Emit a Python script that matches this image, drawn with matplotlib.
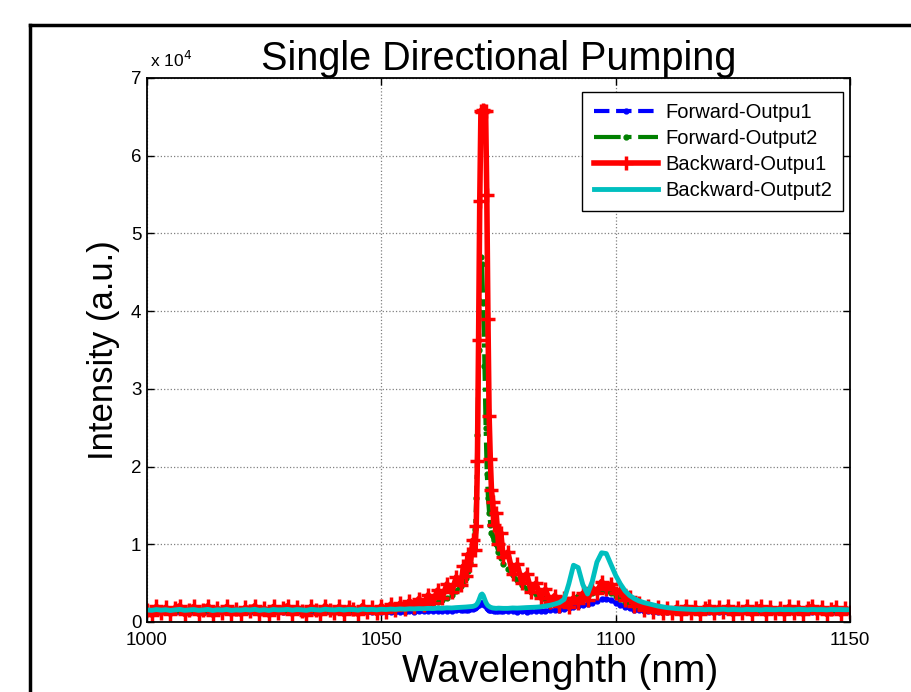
"""
Single directional pumping spectra: forward/backward outputs.

Redraws the four measured spectra (intensity vs wavelength) in MATLAB style.
"""
import matplotlib
matplotlib.use("Agg")
import matplotlib.pyplot as plt
from matplotlib.lines import Line2D
from matplotlib.ticker import FuncFormatter

plt.rcParams['font.family'] = ['Liberation Sans', 'DejaVu Sans']

# Wavelength grid (nm), finer around the 1071 nm lasing line
wavelength = [
    1000, 1001, 1002, 1003, 1004, 1005, 1006, 1007, 1008, 1009,
    1010, 1011, 1012, 1013, 1014, 1015, 1016, 1017, 1018, 1019,
    1020, 1021, 1022, 1023, 1024, 1025, 1026, 1027, 1028, 1029,
    1030, 1031, 1032, 1033, 1034, 1035, 1036, 1037, 1038, 1039,
    1040, 1041, 1042, 1043, 1044, 1045, 1046, 1047, 1048, 1049,
    1050, 1051, 1052, 1053, 1054, 1055, 1056, 1057, 1058, 1059,
    1060, 1061, 1062, 1063, 1064, 1065, 1066, 1067,
    1067.5, 1068, 1068.5, 1069, 1069.5, 1070, 1070.25, 1070.5, 1070.75, 1071,
    1071.25, 1071.5, 1071.75, 1072, 1072.25, 1072.5, 1072.75, 1073, 1073.25, 1073.5,
    1073.75, 1074, 1074.5, 1075, 1075.5, 1076,
    1077, 1078, 1079, 1080, 1081, 1082, 1083, 1084, 1085, 1086,
    1087, 1088, 1089, 1090, 1091, 1092, 1093, 1094, 1095, 1096,
    1097, 1098, 1099, 1100, 1101, 1102, 1103, 1104, 1105, 1106,
    1107, 1108, 1109, 1110, 1111, 1112, 1113, 1114, 1115, 1116,
    1117, 1118, 1119, 1120, 1121, 1122, 1123, 1124, 1125, 1126,
    1127, 1128, 1129, 1130, 1131, 1132, 1133, 1134, 1135, 1136,
    1137, 1138, 1139, 1140, 1141, 1142, 1143, 1144, 1145, 1146,
    1147, 1148, 1149, 1150,
]

forward_out1 = [
    1250, 1200, 1300, 1220, 1280, 1180, 1260, 1310, 1200, 1250,
    1290, 1210, 1250, 1300, 1190, 1270, 1230, 1300, 1200, 1260,
    1220, 1290, 1240, 1310, 1200, 1270, 1190, 1300, 1240, 1260,
    1300, 1220, 1280, 1250, 1200, 1300, 1260, 1220, 1310, 1270,
    1240, 1300, 1230, 1290, 1280, 1220, 1320, 1260, 1290, 1250,
    1300, 1260, 1320, 1280, 1340, 1300, 1350, 1330, 1380, 1360,
    1400, 1380, 1420, 1400, 1450, 1430, 1480, 1500,
    1520, 1550, 1580, 1620, 1700, 1800, 1900, 2000, 2200, 2400,
    2500, 2500, 2400, 2200, 2000, 1850, 1700, 1600, 1550, 1500,
    1480, 1450, 1420, 1400, 1400, 1380,
    1350, 1380, 1320, 1360, 1340, 1380, 1400, 1420, 1450, 1500,
    1550, 1600, 1700, 1800, 1950, 2050, 2150, 2300, 2450, 2700,
    2950, 3000, 2800, 2500, 2200, 1950, 1750, 1600, 1500, 1420,
    1380, 1340, 1300, 1320, 1280, 1300, 1260, 1290, 1300, 1270,
    1290, 1250, 1300, 1270, 1240, 1290, 1260, 1300, 1250, 1280,
    1260, 1300, 1240, 1280, 1300, 1250, 1290, 1260, 1280, 1250,
    1300, 1260, 1280, 1240, 1290, 1300, 1260, 1280, 1250, 1290,
    1280, 1300, 1270, 1290,
]

forward_out2 = [
    1450, 1400, 1500, 1420, 1480, 1380, 1460, 1510, 1400, 1450,
    1490, 1410, 1450, 1500, 1390, 1470, 1430, 1500, 1400, 1460,
    1420, 1490, 1440, 1510, 1400, 1470, 1390, 1500, 1440, 1460,
    1500, 1420, 1480, 1450, 1400, 1500, 1460, 1420, 1510, 1470,
    1440, 1500, 1430, 1490, 1480, 1420, 1520, 1460, 1490, 1450,
    1550, 1600, 1650, 1700, 1750, 1850, 1900, 2000, 2100, 2200,
    2300, 2400, 2600, 2800, 3100, 3500, 4000, 4600,
    5100, 5700, 6500, 7600, 9200, 12000, 16000, 24000, 35000, 44000,
    47000, 46000, 41000, 33000, 25000, 19000, 16000, 14000, 12500, 11500,
    11000, 10500, 10000, 9000, 8200, 7500,
    6800, 6000, 5400, 4800, 4300, 3900, 3600, 3300, 3000, 2800,
    2600, 2500, 2500, 2600, 2900, 3400, 3700, 3600, 3700, 3900,
    4100, 4000, 3700, 3300, 2900, 2600, 2300, 2100, 1950, 1850,
    1800, 1700, 1650, 1600, 1550, 1500, 1520, 1480, 1500, 1470,
    1490, 1450, 1500, 1470, 1440, 1490, 1460, 1500, 1450, 1480,
    1460, 1500, 1440, 1480, 1500, 1450, 1490, 1460, 1480, 1450,
    1500, 1460, 1480, 1440, 1490, 1500, 1460, 1480, 1450, 1490,
    1480, 1500, 1470, 1490,
]

backward_out1 = [
    1500, 900, 2000, 1100, 1900, 1000, 1800, 2100, 1000, 1600,
    2000, 1000, 1600, 2100, 900, 1800, 1200, 2000, 1000, 1700,
    1000, 1900, 1400, 2100, 1000, 1800, 900, 2000, 1200, 1800,
    2100, 1000, 1900, 1400, 900, 2000, 1500, 1000, 2100, 1600,
    1100, 2000, 1000, 1900, 1700, 1000, 2100, 1300, 1900, 1100,
    2100, 1300, 2300, 1500, 2400, 1700, 2700, 1900, 3000, 2200,
    3500, 2500, 4100, 3100, 4900, 3800, 5800, 4700,
    7200, 5900, 8700, 7300, 10500, 9300, 12400, 20700, 36300, 54200,
    65800, 65600, 65900, 65700, 65800, 55000, 39000, 26500, 21000, 17000,
    15500, 12500, 14000, 10000, 11500, 8300,
    9000, 6200, 7400, 5000, 6200, 3900, 5000, 3100, 4200, 2600,
    3400, 2000, 3100, 1900, 3100, 2400, 3700, 2800, 4400, 3700,
    5200, 4200, 4900, 3700, 4100, 2800, 3200, 2100, 2500, 1600,
    2100, 1300, 1900, 1100, 1800, 1200, 1900, 1000, 2000, 1200,
    1900, 1000, 1800, 2000, 1100, 1900, 1300, 2000, 1000, 1800,
    1100, 2000, 1000, 1800, 2000, 1000, 1900, 1200, 1800, 1000,
    2000, 1100, 1900, 1000, 1800, 2000, 1100, 1900, 1000, 1700,
    1900, 1000, 1800, 1300,
]

backward_out2 = [
    1550, 1500, 1600, 1520, 1580, 1480, 1560, 1620, 1500, 1550,
    1600, 1500, 1550, 1620, 1480, 1570, 1530, 1610, 1490, 1560,
    1520, 1600, 1540, 1630, 1500, 1580, 1490, 1610, 1550, 1570,
    1620, 1520, 1600, 1560, 1500, 1620, 1570, 1530, 1640, 1580,
    1550, 1630, 1540, 1610, 1600, 1530, 1650, 1580, 1620, 1560,
    1640, 1600, 1660, 1620, 1680, 1640, 1700, 1680, 1720, 1700,
    1750, 1720, 1780, 1760, 1820, 1800, 1850, 1880,
    1900, 1920, 1950, 1980, 2000, 2100, 2200, 2400, 2700, 3100,
    3500, 3600, 3400, 3000, 2600, 2300, 2100, 2000, 1900, 1850,
    1800, 1780, 1750, 1780, 1760, 1750,
    1750, 1800, 1780, 1820, 1850, 1870, 1900, 1950, 2050, 2150,
    2300, 2500, 2900, 4900, 7300, 7000, 4800, 3600, 5200, 7700,
    8900, 8800, 7400, 6000, 4900, 4000, 3400, 3000, 2700, 2500,
    2350, 2200, 2050, 1950, 1850, 1780, 1720, 1680, 1650, 1620,
    1600, 1630, 1580, 1620, 1560, 1600, 1640, 1570, 1610, 1590,
    1560, 1620, 1580, 1600, 1550, 1610, 1590, 1570, 1620, 1580,
    1600, 1560, 1620, 1590, 1570, 1610, 1580, 1600, 1560, 1610,
    1590, 1600, 1570, 1580,
]

series_labels = ['Forward-Outpu1', 'Forward-Output2',
                 'Backward-Outpu1', 'Backward-Output2']

x_ticks = [1000, 1050, 1100, 1150]
y_ticks = [0, 10000, 20000, 30000, 40000, 50000, 60000, 70000]


def main():
    fig = plt.figure(figsize=(9.12, 6.92), dpi=100)
    ax = fig.add_axes([0.1612, 0.1012, 0.7708, 0.7861])

    ax.plot(wavelength, forward_out1, color='#0000ff', linestyle='--',
            linewidth=3, marker='.', markersize=7, label=series_labels[0])
    ax.plot(wavelength, forward_out2, color='#008000', linestyle='-.',
            linewidth=3, marker='.', markersize=7, label=series_labels[1])
    ax.plot(wavelength, backward_out1, color='#ff0000', linestyle='-',
            linewidth=4, marker='+', markersize=10, markeredgewidth=2.5,
            label=series_labels[2])
    ax.plot(wavelength, backward_out2, color='#00bfbf', linestyle='-',
            linewidth=3.5, label=series_labels[3])

    ax.set_xlim(1000, 1150)
    ax.set_ylim(0, 70000)
    ax.set_xticks(x_ticks)
    ax.set_yticks(y_ticks)
    ax.yaxis.set_major_formatter(FuncFormatter(lambda v, p: f'{v / 1e4:g}'))
    ax.tick_params(direction='in', length=5, width=1, labelsize=13.5,
                   top=True, right=True)
    ax.tick_params(axis='x', pad=7)
    ax.tick_params(axis='y', pad=4)
    ax.grid(True, color='#808080', linestyle=':', linewidth=0.9)
    for spine in ax.spines.values():
        spine.set_linewidth(1.3)

    ax.text(0.004, 1.014, r'x 10$^4$', transform=ax.transAxes,
            fontsize=12.5, ha='left', va='bottom')
    ax.set_title('Single Directional Pumping', fontsize=28.5, pad=6)
    ax.set_xlabel('Wavelenghth (nm)', fontsize=28)
    ax.xaxis.set_label_coords(0.5875, -0.058)
    ax.set_ylabel('Intensity (a.u.)', fontsize=25)
    ax.yaxis.set_label_coords(-0.038, 0.5)

    leg = ax.legend(loc='upper right', bbox_to_anchor=(0.990, 0.974),
                    borderaxespad=0, fontsize=14.5, numpoints=1,
                    handlelength=3.2, handletextpad=0.35, fancybox=False,
                    framealpha=1, edgecolor='black', labelspacing=0.35,
                    borderpad=0.55)
    leg.get_frame().set_linewidth(1.0)

    # outer frame of the original figure (cropped at right and bottom)
    fig.add_artist(Line2D([30 / 912, 30 / 912], [0, 1 - 25 / 692],
                          transform=fig.transFigure, color='black', linewidth=2.5))
    fig.add_artist(Line2D([30 / 912, 1], [1 - 25 / 692, 1 - 25 / 692],
                          transform=fig.transFigure, color='black', linewidth=2.5))

    fig.savefig('out.png', dpi=100)
    plt.close(fig)


if __name__ == "__main__":
    main()
